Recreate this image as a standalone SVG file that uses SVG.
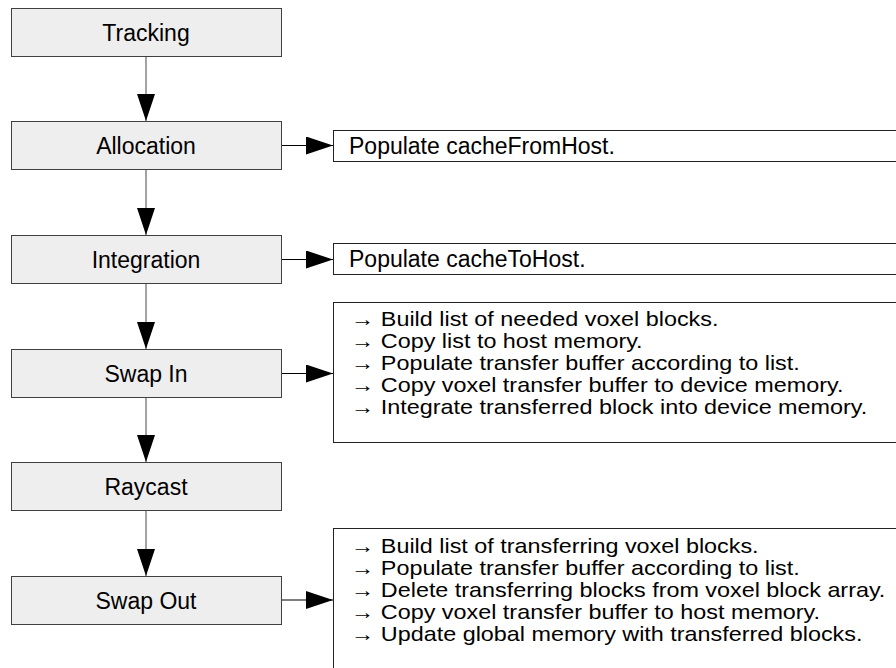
<svg xmlns="http://www.w3.org/2000/svg" width="896" height="668" viewBox="0 0 896 668">
<style>
.stage rect{fill:#eeeeee;stroke:#404040;stroke-width:1}
.stage text{font-family:"Liberation Sans",Arial,sans-serif;font-size:23px;fill:#000;text-anchor:middle}
.note rect{fill:#ffffff;stroke:#222;stroke-width:1}
.note text{font-family:"Liberation Sans",Arial,sans-serif;font-size:23px;fill:#000}
.note .list text{font-size:20.5px}
.conn line{stroke-width:1.2}
.v{stroke:#666666}
.h{stroke:#000000}
</style>
<defs>
<marker id="head" markerUnits="userSpaceOnUse" markerWidth="27" markerHeight="18" viewBox="0 0 27 18" refX="27" refY="9" orient="auto">
<path d="M0,0 L27,9 L0,18 Z" fill="#000"/>
</marker>
</defs>
<rect width="896" height="668" fill="#ffffff"/>
<g id="connectors" class="conn">
<line class="v" x1="146" y1="56.5" x2="146" y2="121" marker-end="url(#head)"/>
<line class="v" x1="146" y1="169.5" x2="146" y2="235" marker-end="url(#head)"/>
<line class="v" x1="146" y1="283.5" x2="146" y2="349" marker-end="url(#head)"/>
<line class="v" x1="146" y1="397.5" x2="146" y2="462" marker-end="url(#head)"/>
<line class="v" x1="146" y1="510.5" x2="146" y2="576" marker-end="url(#head)"/>
<line class="h" x1="281.5" y1="145.5" x2="333" y2="145.5" marker-end="url(#head)"/>
<line class="h" x1="281.5" y1="259.5" x2="333" y2="259.5" marker-end="url(#head)"/>
<line class="h" x1="281.5" y1="373.5" x2="333" y2="373.5" marker-end="url(#head)"/>
<line class="h" x1="281.5" y1="600" x2="333" y2="600" marker-end="url(#head)"/>
</g>
<g id="tracking" class="stage"><rect x="11.5" y="8.5" width="270" height="48"/><text x="146" y="40.5">Tracking</text></g>
<g id="allocation" class="stage"><rect x="11.5" y="121.5" width="270" height="48"/><text x="146" y="153.5">Allocation</text></g>
<g id="integration" class="stage"><rect x="11.5" y="235.5" width="270" height="48"/><text x="146" y="267.5">Integration</text></g>
<g id="swapin" class="stage"><rect x="11.5" y="349.5" width="270" height="48"/><text x="146" y="381.5">Swap In</text></g>
<g id="raycast" class="stage"><rect x="11.5" y="462.5" width="270" height="48"/><text x="146" y="494.5">Raycast</text></g>
<g id="swapout" class="stage"><rect x="11.5" y="576.5" width="270" height="48"/><text x="146" y="608.5">Swap Out</text></g>
<g id="note-allocation" class="note"><rect x="333.5" y="130.5" width="600" height="31"/><text x="349" y="154">Populate cacheFromHost.</text></g>
<g id="note-integration" class="note"><rect x="333.5" y="243.5" width="600" height="31"/><text x="349" y="267">Populate cacheToHost.</text></g>
<g id="note-swapin" class="note"><rect x="333.5" y="302.5" width="600" height="140"/>
<g class="list" transform="translate(351,0) scale(1.14,1)">
<text x="0" y="326">→ Build list of needed voxel blocks.</text>
<text x="0" y="348">→ Copy list to host memory.</text>
<text x="0" y="370">→ Populate transfer buffer according to list.</text>
<text x="0" y="392">→ Copy voxel transfer buffer to device memory.</text>
<text x="0" y="414">→ Integrate transferred block into device memory.</text>
</g></g>
<g id="note-swapout" class="note"><rect x="333.5" y="528.5" width="600" height="200"/>
<g class="list" transform="translate(351,0) scale(1.14,1)">
<text x="0" y="553">→ Build list of transferring voxel blocks.</text>
<text x="0" y="575">→ Populate transfer buffer according to list.</text>
<text x="0" y="597">→ Delete transferring blocks from voxel block array.</text>
<text x="0" y="619">→ Copy voxel transfer buffer to host memory.</text>
<text x="0" y="641">→ Update global memory with transferred blocks.</text>
</g></g>
</svg>
